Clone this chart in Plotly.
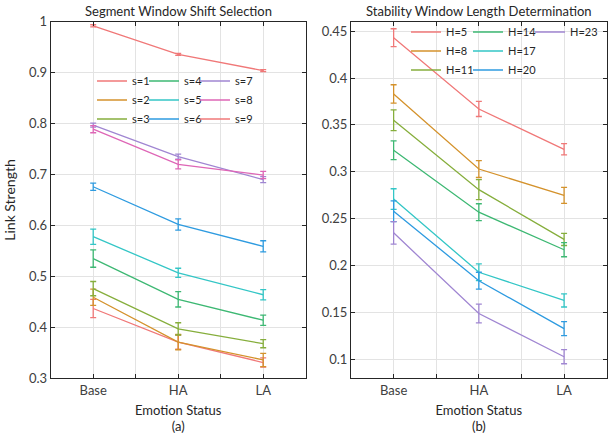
import plotly.graph_objects as go

# ---------------- data ----------------
categories = ["Base", "HA", "LA"]

s_labels = ["s=1", "s=2", "s=3", "s=4", "s=5", "s=6", "s=7", "s=8", "s=9"]
s_values = [
    [0.437, 0.371, 0.331],
    [0.459, 0.371, 0.336],
    [0.476, 0.397, 0.368],
    [0.535, 0.455, 0.414],
    [0.578, 0.507, 0.464],
    [0.676, 0.602, 0.559],
    [0.797, 0.735, 0.690],
    [0.789, 0.720, 0.699],
    [0.992, 0.936, 0.904],
]
s_errors = [
    [0.018, 0.014, 0.009],
    [0.016, 0.015, 0.013],
    [0.014, 0.012, 0.008],
    [0.017, 0.015, 0.010],
    [0.015, 0.009, 0.010],
    [0.007, 0.011, 0.011],
    [0.004, 0.005, 0.006],
    [0.007, 0.009, 0.007],
    [0.002, 0.002, 0.002],
]

h_labels = ["H=5", "H=8", "H=11", "H=14", "H=17", "H=20", "H=23"]
h_values = [
    [0.443, 0.367, 0.324],
    [0.383, 0.303, 0.275],
    [0.355, 0.281, 0.228],
    [0.323, 0.257, 0.217],
    [0.271, 0.193, 0.163],
    [0.258, 0.184, 0.133],
    [0.235, 0.149, 0.103],
]
h_errors = [
    [0.0095, 0.008, 0.006],
    [0.0098, 0.009, 0.0085],
    [0.011, 0.0107, 0.0065],
    [0.010, 0.009, 0.0075],
    [0.011, 0.009, 0.007],
    [0.011, 0.009, 0.0075],
    [0.012, 0.010, 0.0075],
]

left_ticks = [0.3, 0.4, 0.5, 0.6, 0.7, 0.8, 0.9, 1.0]
right_ticks = [0.1, 0.15, 0.2, 0.25, 0.3, 0.35, 0.4, 0.45]

palette = ["#F07878", "#D4922C", "#86AE3C", "#3DB873", "#33C6C6",
           "#2E9BE0", "#A086D2", "#DE66B6"]

FONT = "Lato"
TXT = "#262626"
W, H = 616, 435

xs = list(range(1, len(categories) + 1))

# legend column ids: three columns per panel
left_legends = ["legend", "legend2", "legend3"]
right_legends = ["legend4", "legend5", "legend6"]

fig = go.Figure()

for i, (lab, vals, errs) in enumerate(zip(s_labels, s_values, s_errors)):
    c = palette[i % len(palette)]
    fig.add_trace(go.Scatter(
        x=xs, y=vals, mode="lines", name=lab,
        line=dict(color=c, width=1.3),
        error_y=dict(type="data", array=errs, visible=True, color=c,
                     thickness=1.3, width=3),
        legend=left_legends[i // 3],
        xaxis="x", yaxis="y",
    ))

for i, (lab, vals, errs) in enumerate(zip(h_labels, h_values, h_errors)):
    c = palette[i % len(palette)]
    fig.add_trace(go.Scatter(
        x=xs, y=vals, mode="lines", name=lab,
        line=dict(color=c, width=1.3),
        error_y=dict(type="data", array=errs, visible=True, color=c,
                     thickness=1.3, width=3),
        legend=right_legends[i // 3],
        xaxis="x2", yaxis="y2",
    ))

xtickvals = [1, 1.5, 2, 2.5, 3]
xticktext = [categories[0], "", categories[1], "", categories[2]]

axis_common = dict(
    showline=True, linecolor="#262626", linewidth=1, mirror="ticks",
    ticks="inside", ticklen=4, tickcolor="#262626",
    showgrid=True, gridcolor="#E3E3E3", gridwidth=1,
    zeroline=False, tickfont=dict(family=FONT, size=13, color="#404040"),
)

ybot, ytop = 1 - 378.3 / H, 1 - 21.7 / H


def legend_at(px, py):
    return dict(x=px / W, y=1 - py / H, xanchor="left", yanchor="top",
                orientation="v", bgcolor="rgba(0,0,0,0)", borderwidth=0,
                font=dict(family=FONT, size=11, color=TXT),
                tracegroupgap=0, itemwidth=30)


legend_layout = {
    "legend": legend_at(92, 66.5),
    "legend2": legend_at(144, 66.5),
    "legend3": legend_at(195, 66.5),
    "legend4": legend_at(406, 17.5),
    "legend5": legend_at(468, 17.5),
    "legend6": legend_at(530, 17.5),
}

fig.update_layout(
    width=W, height=H,
    margin=dict(l=0, r=0, t=0, b=0, autoexpand=False),
    paper_bgcolor="white", plot_bgcolor="white",
    font=dict(family=FONT, size=12, color=TXT),
    xaxis=dict(domain=[50.7 / W, 305.7 / W], range=[0.5, 3.5],
               tickvals=xtickvals, ticktext=xticktext,
               title=dict(text="Emotion Status<br>(a)", font=dict(size=13, color=TXT), standoff=8),
               anchor="y", **axis_common),
    yaxis=dict(domain=[ybot, ytop], range=[0.3, 1.0],
               tickvals=left_ticks,
               title=dict(text="Link Strength", font=dict(size=14, color=TXT), standoff=10),
               anchor="x", **axis_common),
    xaxis2=dict(domain=[351 / W, 606.7 / W], range=[0.5, 3.5],
                tickvals=xtickvals, ticktext=xticktext,
                title=dict(text="Emotion Status<br>(b)", font=dict(size=13, color=TXT), standoff=8),
                anchor="y2", **axis_common),
    yaxis2=dict(domain=[ybot, ytop], range=[0.08, 0.46],
                tickvals=right_ticks,
                anchor="x2", **axis_common),
    shapes=[
        dict(type="rect", xref="paper", yref="paper", layer="between",
             x0=96 / W, x1=262 / W, y0=1 - 128 / H, y1=1 - 70 / H,
             fillcolor="white", line=dict(width=0)),
        dict(type="rect", xref="paper", yref="paper", layer="between",
             x0=410 / W, x1=600 / W, y0=1 - 78 / H, y1=1 - 22.5 / H,
             fillcolor="white", line=dict(width=0)),
    ],
    annotations=[
        dict(text="Segment Window Shift Selection", xref="x domain", yref="paper",
             x=0.5, y=1 - 11 / H, xanchor="center", yanchor="middle",
             showarrow=False, font=dict(family=FONT, size=13, color=TXT)),
        dict(text="Stability Window Length Determination", xref="x2 domain", yref="paper",
             x=0.5, y=1 - 11 / H, xanchor="center", yanchor="middle",
             showarrow=False, font=dict(family=FONT, size=13, color=TXT)),
    ],
    **legend_layout,
)

fig.write_html("out.html", config={"displayModeBar": False},
               post_script="document.body.style.margin='0px';")
